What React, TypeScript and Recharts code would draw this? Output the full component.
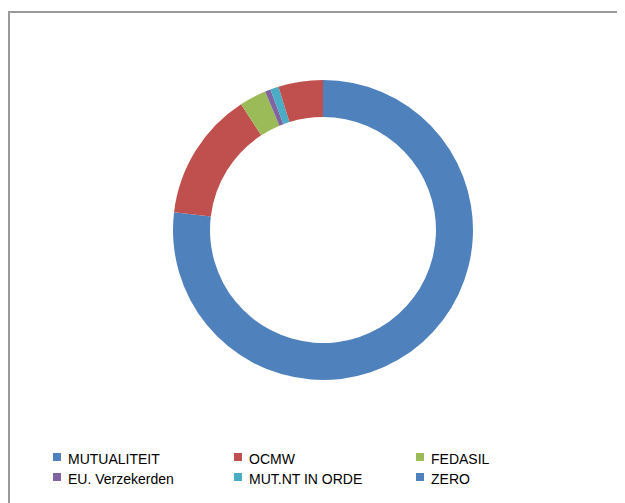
import { Cell, Pie, PieChart } from 'recharts';

const categories = ['MUTUALITEIT', 'OCMW', 'FEDASIL', 'EU. Verzekerden', 'MUT.NT IN ORDE', 'ZERO'];
const shares = [76.9, 13.9, 2.9, 0.6, 0.9, 4.8];
const sliceColors = ['#4F81BD', '#C0504D', '#9BBB59', '#8064A2', '#4BACC6', '#C0504D'];
const legendColors = ['#4F81BD', '#C0504D', '#9BBB59', '#8064A2', '#4BACC6', '#4F81BD'];

const data = categories.map((name, i) => ({ name, value: shares[i] }));

const FONT = '"Liberation Sans", Arial, sans-serif';
const COLS = [43, 224, 406];
const ROWS = [438, 458];

export default function App() {
  return (
    <div
      style={{
        position: 'relative',
        marginTop: 3,
        width: 640,
        height: 500,
        borderTop: '2px solid #9a9a9a',
        borderLeft: '2px solid #9a9a9a',
        background: '#fff',
        fontFamily: FONT,
      }}
    >
      <style>{'html,body{overflow:hidden}'}</style>
      <PieChart width={560} height={400} style={{ position: 'absolute', left: 0, top: 0 }}>
        <Pie
          data={data}
          dataKey="value"
          nameKey="name"
          cx={308}
          cy={212}
          innerRadius={113}
          outerRadius={150}
          startAngle={90}
          endAngle={-270}
          stroke="none"
          isAnimationActive={false}
        >
          {data.map((d, i) => (
            <Cell key={d.name} fill={sliceColors[i]} />
          ))}
        </Pie>
      </PieChart>
      {categories.map((name, i) => (
        <div
          key={name}
          style={{
            position: 'absolute',
            left: COLS[i % 3],
            top: ROWS[Math.floor(i / 3)],
            display: 'flex',
            alignItems: 'center',
            fontSize: 14,
            lineHeight: '16px',
            color: '#000',
            whiteSpace: 'nowrap',
          }}
        >
          <span
            style={{
              position: 'relative',
              top: -2,
              width: 8,
              height: 8,
              background: legendColors[i],
              marginRight: 7,
              display: 'inline-block',
            }}
          />
          {name}
        </div>
      ))}
    </div>
  );
}
